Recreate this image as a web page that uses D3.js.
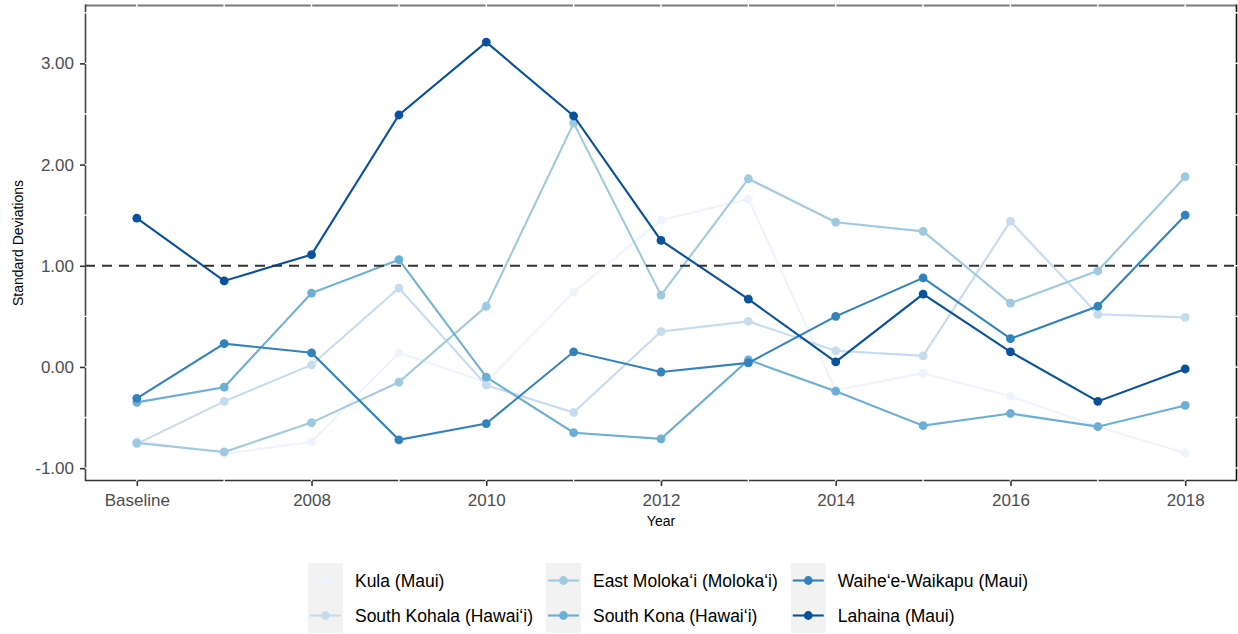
<!DOCTYPE html>
<html>
<head>
<meta charset="utf-8">
<script src="https://cdn.jsdelivr.net/npm/d3@7"></script>
<style>
  html, body { margin: 0; padding: 0; background: #ffffff; }
  svg { display: block; font-family: "Liberation Sans", Arial, sans-serif; }
</style>
</head>
<body>
<svg id="chart" width="1238" height="634"></svg>
<script>
// Year categories along the x axis (first point is the baseline period)
const years = ["Baseline", "2007", "2008", "2009", "2010", "2011", "2012",
               "2013", "2014", "2015", "2016", "2017", "2018"];
const xTickLabels = ["Baseline", "2008", "2010", "2012", "2014", "2016", "2018"];
const yTickValues = [-1, 0, 1, 2, 3];

// Standard deviations by region, one array per region
const kula         = [-0.73, -0.86, -0.74, 0.14, -0.15, 0.74, 1.45, 1.66, -0.23, -0.06, -0.29, -0.59, -0.85];
const southKohala  = [-0.76, -0.34, 0.02, 0.78, -0.18, -0.45, 0.35, 0.45, 0.16, 0.11, 1.44, 0.52, 0.49];
const eastMolokai  = [-0.75, -0.84, -0.55, -0.15, 0.60, 2.41, 0.71, 1.86, 1.43, 1.34, 0.63, 0.95, 1.88];
const southKona    = [-0.35, -0.20, 0.73, 1.06, -0.10, -0.65, -0.71, 0.07, -0.24, -0.58, -0.46, -0.59, -0.38];
const waiheeWaikapu= [-0.31, 0.23, 0.14, -0.72, -0.56, 0.15, -0.05, 0.04, 0.50, 0.88, 0.28, 0.60, 1.50];
const lahaina      = [1.47, 0.85, 1.11, 2.49, 3.21, 2.48, 1.25, 0.67, 0.05, 0.72, 0.15, -0.34, -0.02];

const seriesNames = ["Kula (Maui)", "South Kohala (Hawai\u2018i)", "East Moloka\u2018i (Moloka\u2018i)",
                     "South Kona (Hawai\u2018i)", "Waihe\u2018e-Waikapu (Maui)", "Lahaina (Maui)"];
const seriesColors = ["#eff3ff", "#c6dbef", "#9ecae1", "#6baed6", "#3182bd", "#08519c"];
const seriesValues = [kula, southKohala, eastMolokai, southKona, waiheeWaikapu, lahaina];
const referenceLine = 1;

const series = seriesNames.map((name, i) => ({
  name, color: seriesColors[i],
  points: years.map((yr, j) => ({ year: yr, value: seriesValues[i][j] }))
}));

const svg = d3.select("#chart");
const panel = { left: 85, right: 1237, top: 5, bottom: 481 };

const x = d3.scalePoint().domain(years).range([panel.left, panel.right]).padding(0.593);
const y = d3.scaleLinear().domain([-1.127, 3.577]).range([panel.bottom, panel.top]);

// Panel border
svg.append("line").attr("x1", panel.left).attr("x2", panel.right)
  .attr("y1", panel.top + 0.5).attr("y2", panel.top + 0.5)
  .attr("stroke", "#7a7a7a").attr("stroke-width", 2);
svg.append("line").attr("x1", panel.right - 0.5).attr("x2", panel.right - 0.5)
  .attr("y1", panel.top - 0.5).attr("y2", panel.bottom)
  .attr("stroke", "#111").attr("stroke-width", 1.6);
svg.append("line").attr("x1", panel.left + 0.5).attr("x2", panel.left + 0.5)
  .attr("y1", panel.top - 0.5).attr("y2", panel.bottom)
  .attr("stroke", "#444").attr("stroke-width", 1.6);
svg.append("line").attr("x1", panel.left).attr("x2", panel.right)
  .attr("y1", panel.bottom - 0.5).attr("y2", panel.bottom - 0.5)
  .attr("stroke", "#333").attr("stroke-width", 1.6);

// White grid lines (major and minor), drawn across the border
const grid = svg.append("g").attr("stroke", "#ffffff").attr("stroke-width", 1.4);
years.forEach(yr => {
  grid.append("line").attr("x1", x(yr)).attr("x2", x(yr))
    .attr("y1", panel.top - 2).attr("y2", panel.bottom + 1);
});
d3.range(-1, 3.51, 0.5).forEach(v => {
  grid.append("line").attr("x1", panel.left - 1).attr("x2", panel.right + 1)
    .attr("y1", y(v)).attr("y2", y(v));
});

// Lines and points
const line = d3.line().x(d => x(d.year)).y(d => y(d.value));
const g = svg.append("g");
series.forEach(s => {
  g.append("path").datum(s.points).attr("d", line)
    .attr("fill", "none").attr("stroke", s.color).attr("stroke-width", 2.1);
  g.selectAll(null).data(s.points).enter().append("circle")
    .attr("cx", d => x(d.year)).attr("cy", d => y(d.value)).attr("r", 4.4)
    .attr("fill", s.color);
});

// Dashed reference line at one standard deviation
svg.append("line").attr("x1", panel.left).attr("x2", panel.right)
  .attr("y1", y(referenceLine)).attr("y2", y(referenceLine))
  .attr("stroke", "#333").attr("stroke-width", 2).attr("stroke-dasharray", "10,7");

// Axes
const yAxis = svg.append("g").attr("transform", `translate(${panel.left},0)`)
  .call(d3.axisLeft(y).tickValues(yTickValues).tickFormat(d => d.toFixed(2))
    .tickSize(5).tickPadding(6));
const xAxis = svg.append("g").attr("transform", `translate(0,${panel.bottom})`)
  .call(d3.axisBottom(x).tickValues(xTickLabels).tickSize(5).tickPadding(8));
[yAxis, xAxis].forEach(ax => {
  ax.select(".domain").remove();
  ax.selectAll(".tick line").attr("stroke", "#333").attr("stroke-width", 1.6);
  ax.selectAll(".tick text").attr("fill", "#4d4d4d")
    .style("font-size", "17px").style("font-family", "Liberation Sans, Arial, sans-serif");
});

// Axis titles
svg.append("text").attr("x", (panel.left + panel.right) / 2).attr("y", 526)
  .attr("text-anchor", "middle").style("font-size", "14px").attr("fill", "#000").text("Year");
svg.append("text").attr("transform", `translate(23,${(panel.top + panel.bottom) / 2}) rotate(-90)`)
  .attr("text-anchor", "middle").style("font-size", "14px").attr("fill", "#000")
  .text("Standard Deviations");

// Legend: three columns, two rows
const keySize = 35, textGap = 12, colGap = 13, legendFont = 17.5;
const legend = svg.append("g");
const measure = svg.append("text").style("font-size", legendFont + "px");
const widths = seriesNames.map(n => { measure.text(n); return measure.node().getComputedTextLength(); });
measure.remove();
const nCols = 3, nRows = 2;
const colWidths = d3.range(nCols).map(c =>
  keySize + textGap + d3.max(d3.range(nRows), r => widths[c * nRows + r]));
const legendWidth = d3.sum(colWidths) + colGap * (nCols - 1);
const legendLeft = 668 - legendWidth / 2;
const legendTop = 563;
let cx = legendLeft;
d3.range(nCols).forEach(c => {
  d3.range(nRows).forEach(r => {
    const i = c * nRows + r;
    const kx = cx, ky = legendTop + r * keySize;
    legend.append("rect").attr("x", kx).attr("y", ky).attr("width", keySize).attr("height", keySize)
      .attr("fill", "#f2f2f2");
    legend.append("line").attr("x1", kx + 2).attr("x2", kx + keySize - 2)
      .attr("y1", ky + keySize / 2).attr("y2", ky + keySize / 2)
      .attr("stroke", seriesColors[i]).attr("stroke-width", 2.1);
    legend.append("circle").attr("cx", kx + keySize / 2).attr("cy", ky + keySize / 2).attr("r", 4.4)
      .attr("fill", seriesColors[i]);
    legend.append("text").attr("x", kx + keySize + textGap).attr("y", ky + keySize / 2)
      .attr("dy", "0.35em").style("font-size", legendFont + "px").attr("fill", "#000")
      .text(seriesNames[i]);
  });
  cx += colWidths[c] + colGap;
});
</script>
</body>
</html>
